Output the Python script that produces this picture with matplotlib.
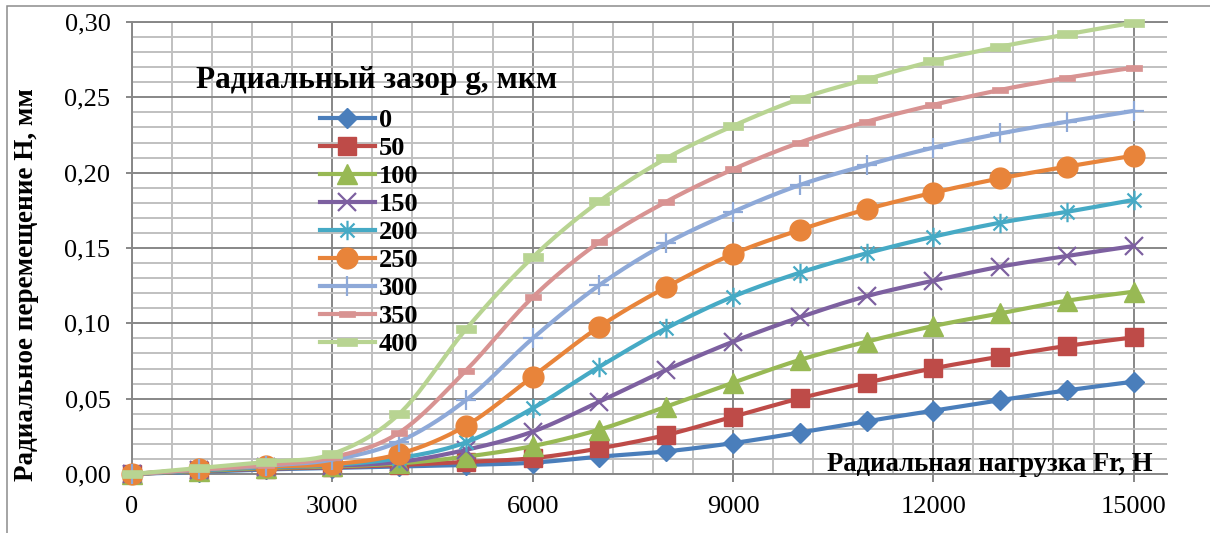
import numpy as np
import matplotlib
matplotlib.use('Agg')
import matplotlib.pyplot as plt
from matplotlib.path import Path
from matplotlib.patches import Rectangle
from matplotlib.lines import Line2D
from matplotlib.ticker import MultipleLocator, FuncFormatter

# ---------------- data ----------------
load = [0, 1000, 2000, 3000, 4000, 5000, 6000, 7000, 8000,
        9000, 10000, 11000, 12000, 13000, 14000, 15000]
gap_labels = ['0', '50', '100', '150', '200', '250', '300', '350', '400']

h_0 = [0, 0.0015, 0.003, 0.004, 0.005, 0.006, 0.0075, 0.0115, 0.015,
       0.0205, 0.0275, 0.035, 0.042, 0.049, 0.0555, 0.0613]
h_50 = [0, 0.002, 0.0035, 0.0045, 0.006, 0.008, 0.0105, 0.017, 0.0259,
        0.038, 0.0502, 0.0606, 0.0701, 0.0779, 0.085, 0.0907]
h_100 = [0, 0.002, 0.004, 0.005, 0.007, 0.0115, 0.0185, 0.0295, 0.0447,
         0.0606, 0.0757, 0.0878, 0.0982, 0.1066, 0.115, 0.121]
h_150 = [0, 0.0025, 0.0045, 0.0055, 0.008, 0.016, 0.0281, 0.048, 0.069,
         0.0878, 0.104, 0.118, 0.1283, 0.1376, 0.1447, 0.1513]
h_200 = [0, 0.0025, 0.0045, 0.006, 0.0105, 0.021, 0.0436, 0.0712, 0.0967,
         0.1177, 0.1336, 0.1465, 0.1575, 0.1668, 0.174, 0.1819]
h_250 = [0, 0.003, 0.005, 0.0065, 0.0133, 0.032, 0.0646, 0.0978, 0.124,
         0.146, 0.162, 0.1757, 0.1867, 0.1962, 0.204, 0.2113]
h_300 = [0, 0.003, 0.0055, 0.0095, 0.0215, 0.049, 0.090, 0.1254, 0.153,
         0.174, 0.1918, 0.205, 0.2166, 0.226, 0.2338, 0.241]
h_350 = [0, 0.003, 0.006, 0.011, 0.0274, 0.0686, 0.1173, 0.154, 0.1807,
         0.2022, 0.22, 0.2338, 0.245, 0.2549, 0.263, 0.2697]
h_400 = [0, 0.004, 0.008, 0.0133, 0.0398, 0.096, 0.1438, 0.181, 0.2095,
         0.231, 0.249, 0.262, 0.274, 0.2836, 0.2918, 0.2996]
series = [h_0, h_50, h_100, h_150, h_200, h_250, h_300, h_350, h_400]

legend_title = 'Радиальный зазор g, мкм'
y_label = 'Радиальное перемещение Н, мм'
x_label = 'Радиальная нагрузка Fr, Н'

# ---------------- styles ----------------
colors = ['#4A7EBB', '#BE4B48', '#98B954', '#7D60A0', '#46AAC5',
          '#E8843A', '#8EA9D8', '#D89392', '#B8D492']

asterisk = Path([(0, -1), (0, 1), (-0.72, -0.72), (0.72, 0.72),
                 (-0.72, 0.72), (0.72, -0.72)],
                [Path.MOVETO, Path.LINETO, Path.MOVETO, Path.LINETO,
                 Path.MOVETO, Path.LINETO])
dash_s = Path([(-1, -0.4), (1, -0.4), (1, 0.4), (-1, 0.4), (-1, -0.4)],
              [Path.MOVETO, Path.LINETO, Path.LINETO, Path.LINETO, Path.CLOSEPOLY])
dash_l = Path([(-1, -0.38), (1, -0.38), (1, 0.38), (-1, 0.38), (-1, -0.38)],
              [Path.MOVETO, Path.LINETO, Path.LINETO, Path.LINETO, Path.CLOSEPOLY])

markers = ['D', 's', '^', 'x', asterisk, 'o', '+', dash_s, dash_l]
msizes = [10, 13, 14, 13, 14, 15, 14, 12, 15]
mews = [1, 1, 1, 1.6, 1.6, 1, 1.6, 0.5, 0.5]

FONT = 'Liberation Serif'
LW = 3.0


def smooth(x, y, n=24):
    x = np.asarray(x, float)
    y = np.asarray(y, float)
    P = np.column_stack([x, y])
    out = []
    m = len(P)
    for i in range(m - 1):
        p0 = P[i - 1] if i > 0 else P[i]
        p1 = P[i]
        p2 = P[i + 1]
        p3 = P[i + 2] if i + 2 < m else P[i + 1]
        c1 = p1 + (p2 - p0) / 6.0
        c2 = p2 - (p3 - p1) / 6.0
        t = np.linspace(0, 1, n, endpoint=(i == m - 2))[:, None]
        b = ((1 - t) ** 3) * p1 + 3 * ((1 - t) ** 2) * t * c1 + \
            3 * (1 - t) * t ** 2 * c2 + t ** 3 * p2
        out.append(b)
    out = np.vstack(out)
    return out[:, 0], out[:, 1]


W, H = 1210, 533
fig = plt.figure(figsize=(W / 100, H / 100), dpi=100)

# outer frame
fig.add_artist(Rectangle((7 / W, -0.1), 1.2, 1 - 6 / H + 0.1,
                         transform=fig.transFigure, fill=False,
                         edgecolor='#8C8C8C', lw=1.1))

ax = fig.add_axes([132 / W, 1 - 474 / H, (1167 - 132) / W, (474 - 22) / H])
ax.set_xlim(0, 15500)
ax.set_ylim(0, 0.30)

ax.xaxis.set_major_locator(MultipleLocator(3000))
ax.xaxis.set_minor_locator(MultipleLocator(600))
ax.yaxis.set_major_locator(MultipleLocator(0.05))
ax.yaxis.set_minor_locator(MultipleLocator(0.01))
ax.yaxis.set_major_formatter(FuncFormatter(lambda v, p: f'{v:.2f}'.replace('.', ',')))
ax.xaxis.set_major_formatter(FuncFormatter(lambda v, p: f'{int(round(v))}'))

ax.grid(which='major', color='#878787', lw=1.4)
ax.grid(which='minor', color='#C0C0C0', lw=1.4)
ax.set_axisbelow(True)

ax.spines['right'].set_visible(False)
for s in ['left', 'bottom', 'top']:
    ax.spines[s].set_color('#878787')
    ax.spines[s].set_linewidth(1.4)

ax.tick_params(axis='y', which='major', length=4.5, width=1.4, color='#878787',
               pad=11, labelsize=19)
ax.tick_params(axis='x', which='major', length=6, width=1.4, color='#878787',
               pad=10, labelsize=19)
ax.tick_params(which='minor', length=0)
for lab in ax.get_xticklabels() + ax.get_yticklabels():
    lab.set_family(FONT)

handles = []
for i, (yv, lab) in enumerate(zip(series, gap_labels)):
    xs, ys = smooth(load, yv)
    ax.plot(xs, ys, color=colors[i], lw=LW, solid_capstyle='round',
            zorder=3 + i, clip_on=False)
    ax.plot(load, yv, ls='none', marker=markers[i], ms=msizes[i],
            mfc=colors[i], mec=colors[i], mew=mews[i], zorder=3 + i,
            clip_on=False)
    handles.append(Line2D([], [], color=colors[i], lw=LW, marker=markers[i],
                          ms=msizes[i], mfc=colors[i], mec=colors[i],
                          mew=mews[i]))

leg = fig.legend(handles, gap_labels,
                 loc='upper left', bbox_to_anchor=(320 / W, 1 - 109 / H),
                 bbox_transform=fig.transFigure, frameon=False,
                 prop=dict(family=FONT, weight='bold', size=19),
                 handlelength=2.08, handletextpad=0.15, labelspacing=0.17,
                 borderpad=0, borderaxespad=0, numpoints=1)

fig.text(376.5 / W, 1 - 88 / H, legend_title, ha='center', va='baseline',
         family=FONT, weight='bold', size=22.5)
fig.text(27 / W, 1 - 285 / H, y_label, rotation=90, ha='center', va='center',
         family=FONT, weight='bold', size=19.5)
fig.text(1153 / W, 1 - 471 / H, x_label, ha='right', va='baseline',
         family=FONT, weight='bold', size=19.2)

fig.savefig('out.png', dpi=100)
